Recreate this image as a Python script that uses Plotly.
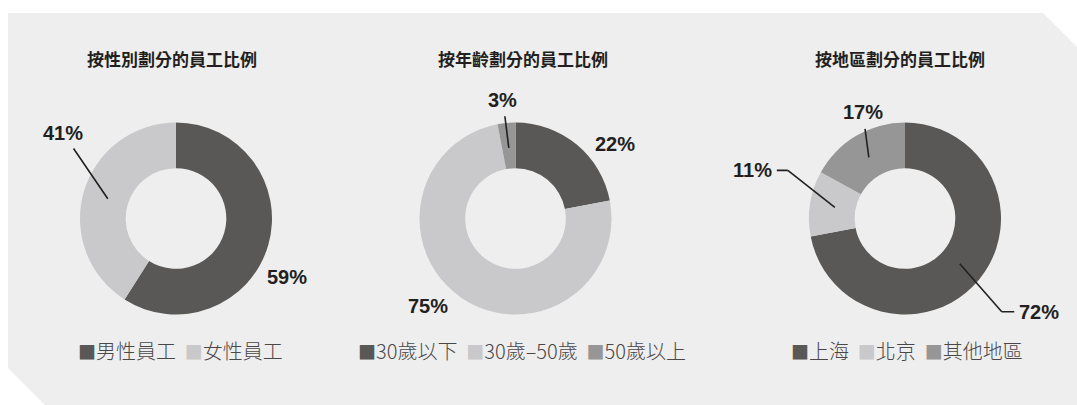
import math
import plotly.graph_objects as go

W, H = 1077, 405

titles = ['按性別劃分的員工比例', '按年齡劃分的員工比例', '按地區劃分的員工比例']

gender_labels = ['男性員工', '女性員工']
gender_values = [59, 41]

age_labels = ['30歲以下', '30歲–50歲', '50歲以上']
age_values = [22, 75, 3]

region_labels = ['上海', '北京', '其他地區']
region_values = [72, 11, 17]

colors = ['#595856', '#c9c9cb', '#959695']
ink = '#231f20'

# layout (pixels)
centres = [(176, 218.5), (515.5, 218.5), (905, 218.5)]
R = 96
hole = 0.524
title_x = [172, 523, 900]
legend_x = [180, 522, 907]
# text offset from the point inside the slice, leader style, elbow length
label_offsets = [
    [(43, 39, None, 0), (-45, -66, 'straight', 0)],
    [(54, -20, None, 0), (-48, 29, None, 0), (-6, -48, 'straight', 0)],
    [(79, 48, 'elbow', 37), (-82, -37, 'elbow', 35), (-6, -45, 'straight', 0)],
]

charts = [(gender_labels, gender_values),
          (age_labels, age_values),
          (region_labels, region_values)]

fig = go.Figure()
annotations = []
shapes = [dict(type='path', xref='x', yref='y', layer='below', line=dict(width=0),
               fillcolor='#eeeeee',
               path='M 8 13 L 1043 13 L 1077 47 L 1077 405 L 45 405 L 8 368 Z')]

pct_font = dict(family='Liberation Sans', size=20, color=ink, weight='bold')

for i, (labels, values) in enumerate(charts):
    cx, cy = centres[i]
    fig.add_trace(go.Pie(
        labels=labels, values=values, hole=hole, sort=False,
        direction='clockwise', rotation=0,
        marker=dict(colors=colors[:len(values)], line=dict(width=0)),
        textinfo='none', hoverinfo='label+percent', showlegend=False,
        domain=dict(x=[(cx - R) / W, (cx + R) / W],
                    y=[(H - cy - R) / H, (H - cy + R) / H]),
    ))

    total = sum(values)
    start = 0
    for v, (dx, dy, line, elbow) in zip(values, label_offsets[i]):
        mid = math.radians((start + v / 2) / total * 360)
        start += v
        r = R * 0.74
        px = cx + r * math.sin(mid)
        py = cy - r * math.cos(mid)
        ann = dict(xref='x', yref='y', text=f'{v}%', font=pct_font)
        if line == 'straight':
            ann.update(x=px, y=py, showarrow=True, ax=dx, ay=dy, arrowhead=0,
                       arrowwidth=1.6, arrowcolor=ink, startstandoff=4)
        elif line == 'elbow':
            tx, ty = px + dx, py + dy
            ex = tx - elbow if dx > 0 else tx + elbow
            ann.update(x=ex, y=ty, showarrow=True, ax=tx - ex, ay=0, arrowhead=0,
                       arrowwidth=1.6, arrowcolor=ink, startstandoff=3)
            shapes.append(dict(type='line', xref='x', yref='y', x0=px, y0=py,
                               x1=ex, y1=ty, line=dict(color=ink, width=1.6)))
        else:
            ann.update(x=px, y=py, showarrow=False, xshift=dx, yshift=-dy)
        annotations.append(ann)

    annotations.append(dict(
        x=title_x[i], y=58, xref='x', yref='y', showarrow=False, text=titles[i],
        font=dict(family='Noto Sans CJK TC', size=17, color=ink, weight='bold')))

    items = [f'<span style="color:{c};font-size:18px">■</span>{lab}'
             for lab, c in zip(labels, colors)]
    annotations.append(dict(
        x=legend_x[i], y=350, xref='x', yref='y', showarrow=False,
        text='\u00a0\u00a0'.join(items),
        font=dict(family='Noto Sans CJK TC', size=20, color='#4a4748', weight=300)))

fig.update_layout(
    width=W, height=H,
    margin=dict(l=0, r=0, t=0, b=0),
    paper_bgcolor='white', plot_bgcolor='rgba(0,0,0,0)',
    xaxis=dict(range=[0, W], visible=False, fixedrange=True),
    yaxis=dict(range=[H, 0], visible=False, fixedrange=True),
    shapes=shapes,
    annotations=annotations,
)

fig.write_html('out.html', config={'displayModeBar': False},
               post_script="document.body.style.margin='0';")
